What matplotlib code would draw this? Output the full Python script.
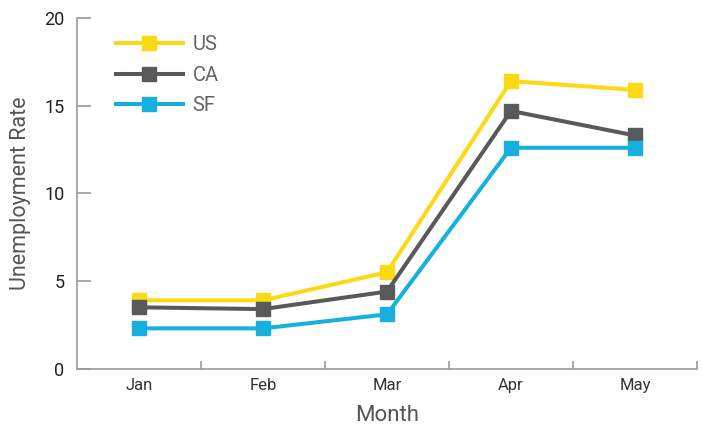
import matplotlib
matplotlib.use("Agg")
import matplotlib.pyplot as plt
import numpy as np

months = ["Jan", "Feb", "Mar", "Apr", "May"]
us = [3.9, 3.9, 5.5, 16.4, 15.9]
ca = [3.5, 3.4, 4.4, 14.7, 13.3]
sf = [2.3, 2.3, 3.1, 12.6, 12.6]
series_names = ["US", "CA", "SF"]
colors = ["#FBDA14", "#58595B", "#15B0DD"]

plt.rcParams['font.family'] = ['Roboto', 'DejaVu Sans']

fig = plt.figure(figsize=(7.02, 4.28), dpi=100)
ax = fig.add_axes([77/702, 59.3/428, 620/702, (368.7-18)/428])

x = np.arange(len(months))
for vals, name, c in zip([us, ca, sf], series_names, colors):
    ax.plot(x, vals, color=c, lw=2.9, marker='s', markersize=9.5, label=name,
            solid_joinstyle='miter')

ax.set_xlim(-0.5, len(months) - 0.5)
ax.set_ylim(0, 20)
ax.set_yticks([0, 5, 10, 15, 20])
ax.set_xticks(x)
ax.set_xticklabels(months)
ax.set_xticks(np.arange(0.5, len(months)), minor=True)

spine_c = "#9B9B9B"
for s in ["top", "right"]:
    ax.spines[s].set_visible(False)
for s in ["left", "bottom"]:
    ax.spines[s].set_color(spine_c)
    ax.spines[s].set_linewidth(1.2)

ax.tick_params(axis='y', direction='in', length=10, width=1.2, color=spine_c,
               labelsize=13, labelcolor="#222222", pad=9)
ax.tick_params(axis='x', which='major', length=0, labelsize=12,
               labelcolor="#333333", pad=7)
ax.tick_params(axis='x', which='minor', direction='in', length=6, width=1.2,
               color=spine_c)

ax.set_ylabel("Unemployment Rate", fontsize=15.5, color="#555555")
ax.yaxis.set_label_coords(-0.074, 0.5)
ax.set_xlabel("Month", fontsize=16, color="#555555")
ax.xaxis.set_label_coords(0.5, -0.104)

leg = ax.legend(loc='upper left', bbox_to_anchor=(0.063, 0.951), frameon=False,
                fontsize=14.5, handlelength=3.3, labelspacing=0.57,
                handletextpad=0.5, labelcolor="#626365",
                borderpad=0, borderaxespad=0)

fig.savefig("out.png", dpi=100)
